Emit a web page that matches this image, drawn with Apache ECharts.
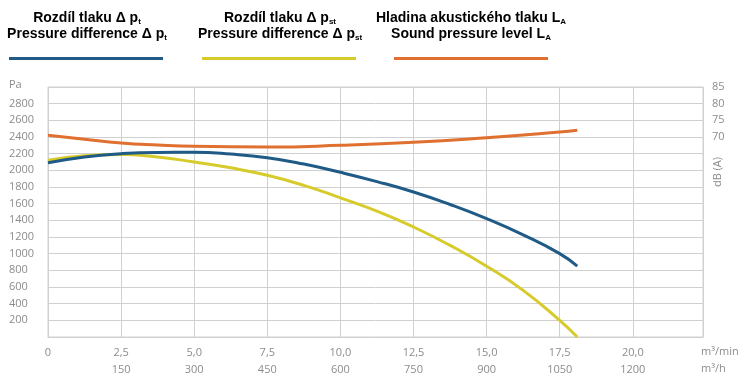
<!DOCTYPE html>
<html>
<head>
<meta charset="utf-8">
<script src="https://cdn.jsdelivr.net/npm/echarts@6/dist/echarts.min.js"></script>
<style>html,body{margin:0;padding:0;background:#fff}#c{width:750px;height:385px}</style>
</head>
<body>
<div id="c"></div>
<script>
// Flow (m³/min)
const flowPt = [0, 1.25, 2.5, 3.75, 5.0, 6.25, 7.5, 8.75, 10.0, 11.25, 12.5, 13.75, 15.0, 16.25, 17.5, 18.1];
// Total pressure difference Δpt (Pa)
const pressureTotal = [2090, 2160, 2200, 2215, 2216, 2195, 2152, 2075, 1976, 1865, 1740, 1590, 1420, 1225, 1000, 850];
// Static pressure difference Δpst (Pa)
const pressureStatic = [2120, 2175, 2190, 2160, 2100, 2030, 1940, 1820, 1670, 1510, 1320, 1100, 850, 560, 200, 0];
// Sound pressure level LA (dB(A))
const flowLa = [0, 1.25, 2.5, 3.75, 5.0, 7.5, 10.0, 12.5, 15.0, 17.5, 18.1];
const soundLevel = [70.5, 69.3, 68.2, 67.6, 67.2, 67.0, 67.5, 68.4, 69.8, 71.5, 72.0];

const leftTicksHidden = [0, 3000];
const rightTickMinShown = 70;

const C_BLUE = '#1f5b86', C_YEL = '#d7cb2c', C_ORA = '#e0702f';
const LBL = '#8c8c8c', GRID = '#d0d0d0';
const FONT = 'Open Sans';

const pair = (xs, ys) => xs.map((x, i) => [x, ys[i]]);
const fmtMin = v => v === 0 ? '0' : v.toFixed(1).replace('.', ',');

const legendRich = {
  b: { fontFamily: 'Liberation Sans', fontWeight: 'bold', fontSize: 14, lineHeight: 16, color: '#000' },
  s: { fontFamily: 'Liberation Sans', fontWeight: 'bold', fontSize: 8, lineHeight: 16, color: '#000', verticalAlign: 'bottom', padding: [4, 0, 0, 0] }
};
function legendText(x, txt) {
  return { type: 'text', x: x, y: 26, style: { text: txt, rich: legendRich, align: 'center', textAlign: 'center', verticalAlign: 'middle', textVerticalAlign: 'middle' } };
}
function legendLine(x1, x2, color) {
  return { type: 'line', shape: { x1: x1, y1: 58.5, x2: x2, y2: 58.5 }, style: { stroke: color, lineWidth: 3 } };
}

const chart = echarts.init(document.getElementById('c'), null, { renderer: 'canvas' });
chart.setOption({
  animation: false,
  grid: { left: 48, right: 47, top: 87, bottom: 48, show: true, borderColor: GRID, borderWidth: 1 },
  xAxis: [{
    type: 'value', min: 0, max: 22.4, interval: 2.5,
    axisLine: { show: true, lineStyle: { color: GRID } },
    axisTick: { show: false },
    splitLine: { show: true, lineStyle: { color: GRID } },
    axisLabel: { color: LBL, fontFamily: FONT, fontSize: 11, margin: 10, showMaxLabel: false, formatter: fmtMin }
  }, {
    type: 'value', min: 0, max: 22.4, interval: 2.5, position: 'bottom', offset: 17,
    axisLine: { show: false }, axisTick: { show: false }, splitLine: { show: false },
    axisLabel: { color: LBL, fontFamily: FONT, fontSize: 11, margin: 10, showMaxLabel: false, showMinLabel: false,
      formatter: v => v === 0 ? '' : String(Math.round(v * 60)) }
  }],
  yAxis: [{
    type: 'value', min: 0, max: 3000, interval: 200,
    axisLine: { show: false }, axisTick: { show: false },
    splitLine: { show: true, lineStyle: { color: GRID } },
    axisLabel: { color: LBL, fontFamily: FONT, fontSize: 11, align: 'left', margin: 39,
      formatter: v => leftTicksHidden.includes(v) ? '' : String(v) }
  }, {
    type: 'value', min: 10, max: 85, interval: 5, position: 'right',
    axisLine: { show: false }, axisTick: { show: false }, splitLine: { show: false },
    axisLabel: { color: LBL, fontFamily: FONT, fontSize: 11, margin: 9,
      formatter: v => v >= rightTickMinShown ? String(v) : '' }
  }],
  series: [{
    type: 'line', name: 'LA', xAxisIndex: 0, yAxisIndex: 1, data: pair(flowLa, soundLevel), smooth: true,
    showSymbol: false, lineStyle: { color: C_ORA, width: 3 }, z: 3
  }, {
    type: 'line', name: 'pst', xAxisIndex: 0, yAxisIndex: 0, data: pair(flowPt, pressureStatic), smooth: true,
    showSymbol: false, lineStyle: { color: C_YEL, width: 3 }, z: 4
  }, {
    type: 'line', name: 'pt', xAxisIndex: 0, yAxisIndex: 0, data: pair(flowPt, pressureTotal), smooth: true,
    showSymbol: false, lineStyle: { color: C_BLUE, width: 3 }, z: 5
  }],
  graphic: [
    legendText(87, '{b|Rozdíl tlaku Δ p}{s|t}\n{b|Pressure difference Δ p}{s|t}'),
    legendText(280, '{b|Rozdíl tlaku Δ p}{s|st}\n{b|Pressure difference Δ p}{s|st}'),
    legendText(471, '{b|Hladina akustického tlaku L}{s|A}\n{b|Sound pressure level L}{s|A}'),
    legendLine(9, 163, C_BLUE),
    legendLine(202, 356, C_YEL),
    legendLine(394, 548, C_ORA),
    { type: 'text', x: 9, y: 85, style: { text: 'Pa', fill: LBL, font: '11px "Open Sans"', verticalAlign: 'middle', textVerticalAlign: 'middle' } },
    { type: 'text', x: 718, y: 172, rotation: Math.PI / 2, style: { text: 'dB (A)', fill: LBL, font: '11px "Open Sans"', align: 'center', textAlign: 'center', verticalAlign: 'middle', textVerticalAlign: 'middle' } },
    { type: 'text', x: 701, y: 352, style: { text: 'm³/min', fill: LBL, font: '11px "Open Sans"', verticalAlign: 'middle', textVerticalAlign: 'middle' } },
    { type: 'text', x: 701, y: 369, style: { text: 'm³/h', fill: LBL, font: '11px "Open Sans"', verticalAlign: 'middle', textVerticalAlign: 'middle' } }
  ]
});
</script>
</body>
</html>
